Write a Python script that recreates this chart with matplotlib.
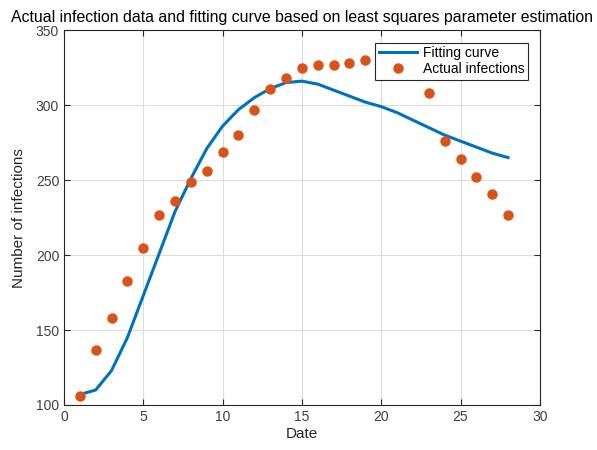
import matplotlib
matplotlib.use("Agg")
import matplotlib.pyplot as plt

days_actual = [1, 2, 3, 4, 5, 6, 7, 8, 9, 10, 11, 12, 13, 14, 15, 16, 17, 18, 19,
               23, 24, 25, 26, 27, 28]
infections_actual = [106, 137, 158, 183, 205, 227, 236, 249, 256, 269, 280, 297, 311, 318,
                     325, 327, 327, 328, 330, 308, 276, 264, 252, 241, 227]

days_fit = list(range(1, 29))
infections_fit = [107, 110, 123, 145, 173, 201, 229, 251, 271, 286, 297, 305, 311, 315,
                  316, 314, 310, 306, 302, 299, 295, 290, 285, 280, 276, 272, 268, 265]

plt.rcParams['font.family'] = ['Liberation Sans', 'DejaVu Sans']

fig = plt.figure(figsize=(5.97, 4.5), dpi=100)
ax = fig.add_axes([0.1072, 0.1, 0.797, 0.833])

ax.plot(days_fit, infections_fit, color='#0072BD', lw=2.2, label='Fitting curve')
ax.plot(days_actual, infections_actual, 'o', color='#D95319', ms=6.5, mec='#D95319',
        label='Actual infections')

ax.set_xlim(0, 30)
ax.set_ylim(100, 350)
ax.set_xticks([0, 5, 10, 15, 20, 25, 30])
ax.set_yticks([100, 150, 200, 250, 300, 350])
ax.grid(True, color='#dcdcdc', lw=0.8)
ax.set_axisbelow(True)
ax.tick_params(direction='in', top=True, right=True, length=4, labelsize=10,
               colors='#262626', labelcolor='#404040')
for s in ax.spines.values():
    s.set_color('#262626')
    s.set_linewidth(0.8)

ax.set_xlabel('Date', fontsize=11, color='#262626', labelpad=2)
ax.set_ylabel('Number of infections', fontsize=11, color='#262626', labelpad=7)
ax.set_title('Actual infection data and fitting curve based on least squares parameter estimation',
             fontsize=11.4, color='black', pad=6)

leg = ax.legend(loc='upper right', fontsize=10, frameon=True, fancybox=False,
                edgecolor='#262626', framealpha=1, borderpad=0.25, labelspacing=0.15,
                handlelength=2.8, handletextpad=0.4, bbox_to_anchor=(0.99, 0.985))
leg.get_frame().set_linewidth(0.8)

fig.savefig('out.png', dpi=100)
